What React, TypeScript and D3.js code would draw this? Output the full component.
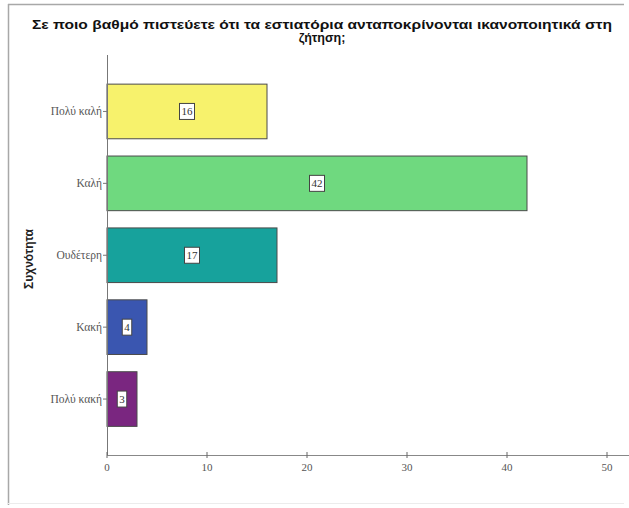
import React from "react";
import * as d3 from "d3";

const categories = ["Πολύ καλή", "Καλή", "Ουδέτερη", "Κακή", "Πολύ κακή"];
const counts = [16, 42, 17, 4, 3];
const barColors = ["#f7f26c", "#6fd97f", "#17a29c", "#3a56b0", "#7a2680"];
const xTicks = [0, 10, 20, 30, 40, 50];
const titleLines = [
  "Σε ποιο βαθμό πιστεύετε ότι τα εστιατόρια ανταποκρίνονται ικανοποιητικά στη",
  "ζήτηση;",
];
const yAxisTitle = "Συχνότητα";

const W = 629;
const H = 508;

export default function App() {
  const x = d3.scaleLinear().domain([0, 50]).range([107, 607]);
  const y = d3
    .scaleBand<string>()
    .domain(categories)
    .range([75.5, 435])
    .paddingInner(0.24)
    .paddingOuter(0.12);
  const axisY = 455;
  const serif = "'Liberation Serif', 'DejaVu Serif', serif";
  const sans = "'Liberation Sans', Arial, sans-serif";

  return (
    <svg
      width={W}
      height={H}
      style={{ position: "absolute", left: 0, top: 0, background: "#fff" }}
    >
      <rect x={0} y={0} width={W} height={H} fill="#fff" />
      {/* frame */}
      <line x1={8.5} y1={4} x2={8.5} y2={505} stroke="#a8a8a8" strokeWidth={1.5} />
      <line x1={8} y1={4.5} x2={624} y2={4.5} stroke="#a8a8a8" strokeWidth={1.5} />
      <line x1={8} y1={503.5} x2={624} y2={503.5} stroke="#ececec" strokeWidth={1} />

      {/* title */}
      <text
        x={322}
        y={29}
        textAnchor="middle"
        fontFamily={sans}
        fontWeight="bold"
        fontSize={12.5}
        fill="#111"
        textLength={580}
        lengthAdjust="spacingAndGlyphs"
      >
        {titleLines[0]}
      </text>
      <text
        x={322}
        y={42}
        textAnchor="middle"
        fontFamily={sans}
        fontWeight="bold"
        fontSize={12.5}
        fill="#111"
      >
        {titleLines[1]}
      </text>

      {/* y axis title */}
      <text
        transform={`translate(33, 259) rotate(-90)`}
        textAnchor="middle"
        fontFamily={sans}
        fontWeight="bold"
        fontSize={12}
        fill="#222"
      >
        {yAxisTitle}
      </text>

      {/* bars */}
      {categories.map((c, i) => {
        const y0 = y(c) as number;
        const bw = y.bandwidth();
        const x1 = x(counts[i]);
        const label = String(counts[i]);
        const tw = label.length * 5.5 + 4;
        const cx = (x(0) + x1) / 2;
        const cy = y0 + bw / 2;
        return (
          <g key={c}>
            <rect
              x={x(0)}
              y={y0}
              width={x1 - x(0)}
              height={bw}
              fill={barColors[i]}
              stroke="#4a4a4a"
              strokeWidth={1}
            />
            <rect
              x={cx - tw / 2}
              y={cy - 8}
              width={tw}
              height={16}
              fill="#fff"
              stroke="#444"
              strokeWidth={1}
            />
            <text
              x={cx}
              y={cy + 4}
              textAnchor="middle"
              fontFamily={serif}
              fontSize={11}
              fill="#333"
            >
              {label}
            </text>
          </g>
        );
      })}

      {/* y axis */}
      <line x1={107.5} y1={55} x2={107.5} y2={axisY} stroke="#777" strokeWidth={1} />
      {categories.map((c) => {
        const cy = (y(c) as number) + y.bandwidth() / 2;
        return (
          <g key={"t" + c}>
            <line x1={103} y1={cy} x2={107} y2={cy} stroke="#777" />
            <text
              x={102}
              y={cy + 4}
              textAnchor="end"
              fontFamily={serif}
              fontSize={11.5}
              fill="#555"
            >
              {c}
            </text>
          </g>
        );
      })}

      {/* x axis */}
      <line x1={107} y1={axisY + 0.5} x2={629} y2={axisY + 0.5} stroke="#888" strokeWidth={1.2} />
      {xTicks.map((t) => (
        <g key={"x" + t}>
          <line x1={x(t)} y1={axisY - 3} x2={x(t)} y2={axisY + 3} stroke="#666" />
          <text
            x={x(t)}
            y={axisY + 16}
            textAnchor="middle"
            fontFamily={serif}
            fontSize={11}
            fill="#555"
          >
            {t}
          </text>
        </g>
      ))}
    </svg>
  );
}
